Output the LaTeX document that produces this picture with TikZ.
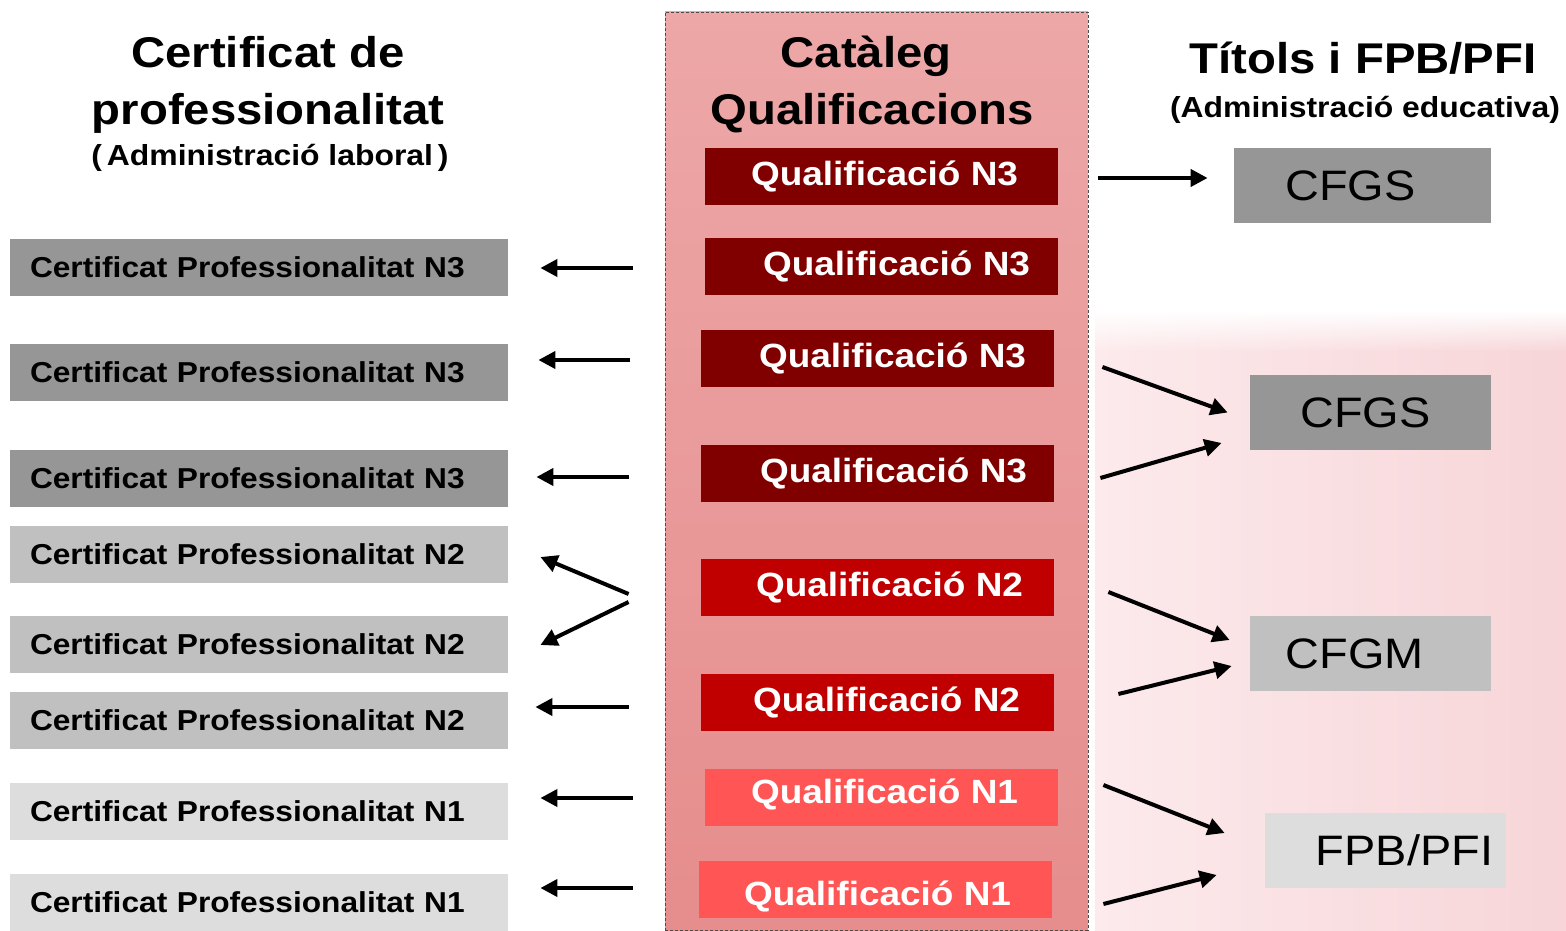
\documentclass[tikz,border=0pt]{standalone}
\usepackage{fontspec}
\setmainfont{Liberation Sans}[FakeStretch=1.1]
\usetikzlibrary{arrows.meta,calc,fadings}
\definecolor{qthree}{HTML}{800000}
\definecolor{qtwo}{HTML}{C00000}
\definecolor{qone}{HTML}{FF5555}
\definecolor{gthree}{HTML}{969696}
\definecolor{gtwo}{HTML}{C0C0C0}
\definecolor{gone}{HTML}{DDDDDD}
\definecolor{cattop}{HTML}{EDA7A7}
\definecolor{catbot}{HTML}{E68D8D}
\definecolor{bgl}{HTML}{FCEAEC}
\definecolor{bgr}{HTML}{F7D5D8}
\tikzset{
    >={Triangle[length=8.5pt,width=8.5pt]},
    cq/.style={
        qual/.append style={text=white,inner sep=0pt,text height=12.5pt,text depth=3.5pt,minimum width=176.5pt,minimum height=28.5pt,font={\fontsize{16.8}{20}\selectfont\bfseries}},
        cert/.append style={inner xsep=10pt,inner ysep=0pt,text width=229pt,align=left,minimum height=28.5pt,font={\fontsize{14.4}{17}\selectfont\bfseries}},
        titol/.append style={inner sep=0pt,minimum width=120.5pt,minimum height=37.5pt,font={\fontsize{21.3}{25}\selectfont}},
        head/.append style={anchor=base,inner sep=0pt,font={\fontsize{21.5}{26}\selectfont\bfseries}},
        sub/.append style={anchor=base,inner sep=0pt,font={\fontsize{14.5}{18}\selectfont\bfseries}},
        every edge/.append style={draw,line width=2pt,->}
    }
}

\begin{document}
\begin{tikzpicture}[cq,x=0.5pt,y=-0.5pt]
    \useasboundingbox (0,0) rectangle (1566,930);
    \shade[left color=bgl,right color=bgr,path fading=north] (1095,310) rectangle (1566,352);
    \shade[left color=bgl,right color=bgr] (1095,350) rectangle (1566,930);
    \node[top color=cattop,bottom color=catbot,draw=gray!60!black,dash pattern=on 1.5pt off 1pt,line width=0.4pt,minimum width=211.5pt,minimum height=459pt,inner sep=0pt] (cat) at (876.5,471) {};

    % titles
    \node[head] (lh1) at (268,68) {Certificat de};
    \node[head] (lh2) at (268,125) {professionalitat};
    \node[sub] (lh3) at (270,166) {(\,Administració laboral\,)};
    \node[head] (ch1) at (866,68) {Catàleg};
    \node[head] (ch2) at (872,125) {Qualificacions};
    \node[head] (rh1) at (1363,74) {Títols i FPB/PFI};
    \node[sub] (rh2) at (1365,118) {(Administració educativa)};

    % qualificacions
    \node[qual,fill=qthree] (q1) at (881.5,176.5) {\hspace*{3pt}Qualificació N3};
    \node[qual,fill=qthree] (q2) at (881.5,266.5) {\hspace*{15pt}Qualificació N3};
    \node[qual,fill=qthree] (q3) at (877.5,358.5) {\hspace*{15pt}Qualificació N3};
    \node[qual,fill=qthree] (q4) at (877.5,473.5) {\hspace*{16pt}Qualificació N3};
    \node[qual,fill=qtwo] (q5) at (877.5,587.5) {\hspace*{12pt}Qualificació N2};
    \node[qual,fill=qtwo] (q6) at (877.5,702.5) {\hspace*{9pt}Qualificació N2};
    \node[qual,fill=qone,text depth=6.5pt] (q7) at (881.5,797) {\hspace*{3pt}Qualificació N1};
    \node[qual,fill=qone,text height=20pt] (q8) at (875.5,889) {\hspace*{2pt}Qualificació N1};

    % certificats
    \node[cert,fill=gthree] (c1) at (259,267.5) {Certificat Professionalitat N3};
    \node[cert,fill=gthree] (c2) at (259,372.5) {Certificat Professionalitat N3};
    \node[cert,fill=gthree] (c3) at (259,478.5) {Certificat Professionalitat N3};
    \node[cert,fill=gtwo] (c4) at (259,554.5) {Certificat Professionalitat N2};
    \node[cert,fill=gtwo] (c5) at (259,644.5) {Certificat Professionalitat N2};
    \node[cert,fill=gtwo] (c6) at (259,720.5) {Certificat Professionalitat N2};
    \node[cert,fill=gone] (c7) at (259,811.5) {Certificat Professionalitat N1};
    \node[cert,fill=gone] (c8) at (259,902.5) {Certificat Professionalitat N1};

    % titols
    \node[titol,fill=gthree,minimum width=128.5pt] (t1) at (1362.5,185.5) {CFGS\hspace*{12pt}};
    \node[titol,fill=gthree] (t2) at (1370.5,412.5) {CFGS\hspace*{5pt}};
    \node[titol,fill=gtwo] (t3) at (1370.5,653.5) {CFGM\hspace*{16pt}};
    \node[titol,fill=gone] (t4) at (1385.5,850.5) {\hspace*{19pt}FPB/PFI};

    % cap a la dreta
    \path ($(q1.east)+(40,1.5)$) edge ($(t1.west)+(-26,-7.5)$);
    \path ($(q3.east)+(48,8.5)$) edge ($(t2.west)+(-22,0)$);
    \path ($(q4.east)+(46,4.5)$) edge ($(t2.west)+(-28,30.5)$);
    \path ($(q5.east)+(54,4.5)$) edge ($(t3.west)+(-20,-13.5)$);
    \path ($(q6.east)+(64,-8.5)$) edge ($(t3.west)+(-18,12.5)$);
    \path ($(q7.east)+(45,-12)$) edge ($(t4.west)+(-40,-17.5)$);
    \path ($(q8.east)+(51,15)$) edge ($(t4.west)+(-48,24.5)$);

    % cap a l'esquerra
    \path ($(q2.west)+(-72,1.5)$) edge ($(c1.east)+(32,0.5)$);
    \path ($(q3.west)+(-71,1.5)$) edge ($(c2.east)+(30,-12.5)$);
    \path ($(q4.west)+(-72,3.5)$) edge ($(c3.east)+(28,-1.5)$);
    \path ($(q5.west)+(-72,6.5)$) edge ($(c4.east)+(32,2.5)$);
    \path ($(q5.west)+(-72,14.5)$) edge ($(c5.east)+(32,0.5)$);
    \path ($(q6.west)+(-72,4.5)$) edge ($(c6.east)+(27,-13.5)$);
    \path ($(q7.west)+(-72,1)$) edge ($(c7.east)+(32,-13.5)$);
    \path ($(q8.west)+(-66,-1)$) edge ($(c8.east)+(32,-14.5)$);
\end{tikzpicture}
\end{document}
